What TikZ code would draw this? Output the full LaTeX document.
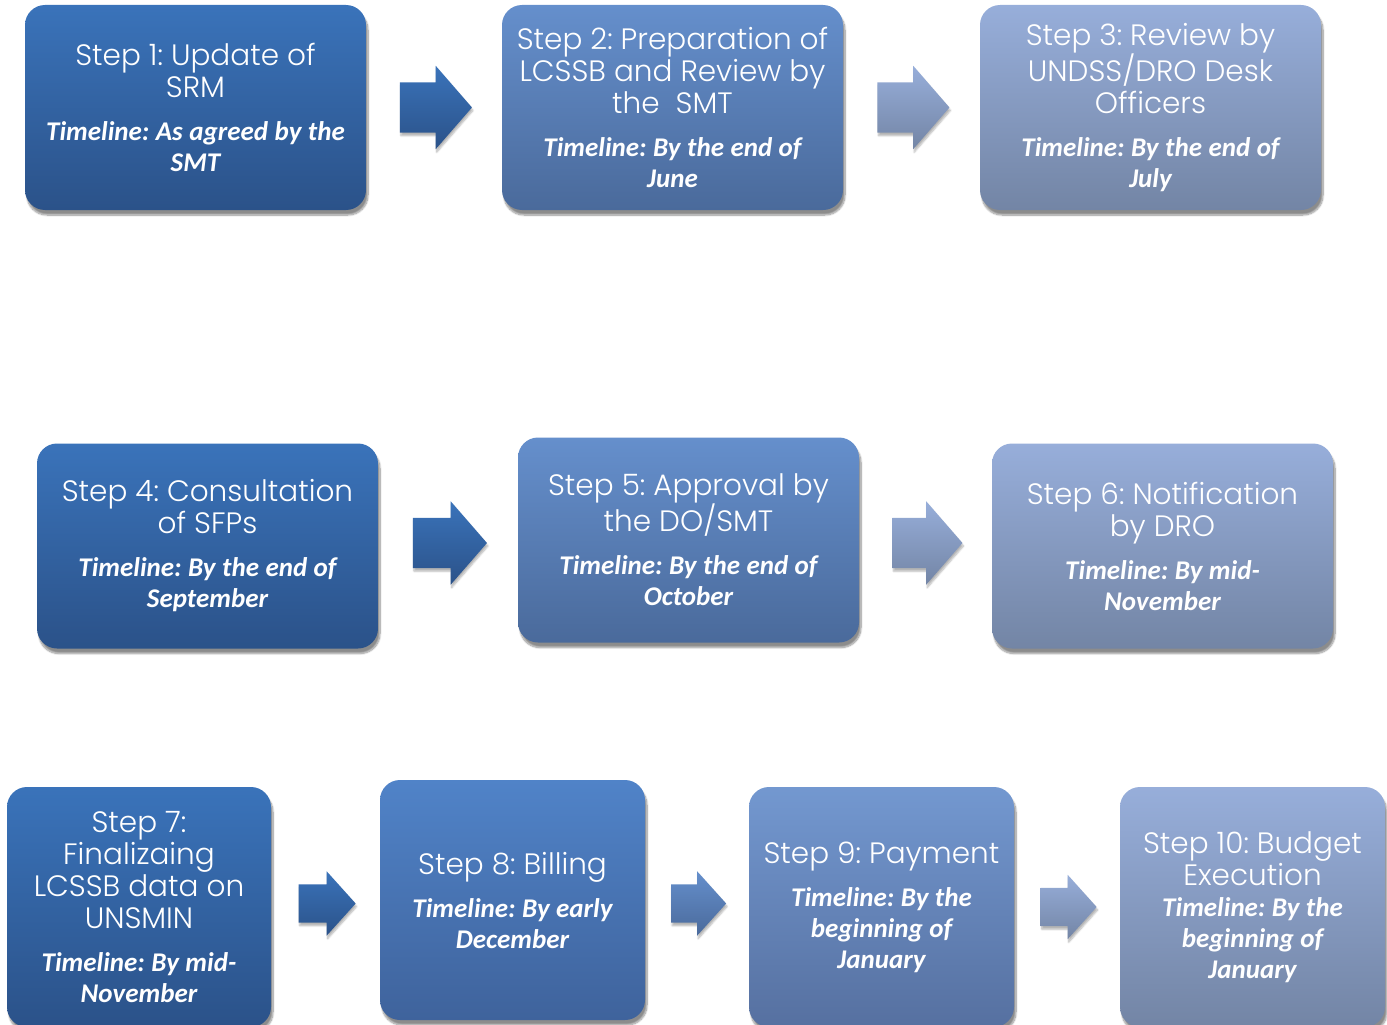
\documentclass[tikz,border=0pt]{standalone}
\usepackage{fontspec}
\usetikzlibrary{shapes.arrows,shadows.blur,calc}
\newfontfamily\titlefam{Poppins Light}
\newfontfamily\timefam{Carlito}
\newcommand\stfont{\titlefam\fontsize{29.5}{32}\selectfont\frenchspacing\spaceskip=8pt\xspaceskip=8pt\relax}
\newcommand\tlfont{\timefam\bfseries\itshape\fontsize{27}{31}\selectfont\frenchspacing\spaceskip=6.5pt\xspaceskip=6.5pt\relax}
\definecolor{dtop}{HTML}{3A73BA}
\definecolor{dbot}{HTML}{2B5289}
\definecolor{mtop}{HTML}{658FCC}
\definecolor{mbot}{HTML}{4A6A9B}
\definecolor{ntop}{HTML}{5083C8}
\definecolor{nbot}{HTML}{3F639C}
\definecolor{ptop}{HTML}{7398D0}
\definecolor{pbot}{HTML}{5670A0}
\definecolor{ltop}{HTML}{97AEDA}
\definecolor{lbot}{HTML}{7385A5}
\tikzset{
  box/.style={rectangle, rounded corners=20pt, draw=none, inner sep=0pt,
    align=center, text=white,
    blur shadow={shadow xshift=2pt, shadow yshift=-5pt, shadow opacity=45, shadow blur steps=10}},
  bigbox/.style={box, minimum width=341pt, minimum height=205pt, text width=332pt},
  tallbox/.style={box, minimum width=265pt, minimum height=240pt, text width=258pt},
  darkfill/.style={top color=dtop, bottom color=dbot},
  midfill/.style={top color=mtop, bottom color=mbot},
  nfill/.style={top color=ntop, bottom color=nbot},
  pfill/.style={top color=ptop, bottom color=pbot},
  lightfill/.style={top color=ltop, bottom color=lbot},
  blockarrow/.style={single arrow, draw=none, inner xsep=0pt,
    single arrow head indent=0pt,
    blur shadow={shadow xshift=1pt, shadow yshift=-3pt, shadow opacity=30, shadow blur steps=6}},
  arrowbig/.style={blockarrow, minimum height=72pt, inner ysep=25pt, minimum width=83pt,
    single arrow head extend=16.5pt, single arrow tip angle=98, xshift=-9pt},
  arrowsmall/.style={blockarrow, minimum height=57pt, inner ysep=19pt, minimum width=64pt,
    single arrow head extend=13pt, single arrow tip angle=96, xshift=-7pt},
}
\begin{document}
\begin{tikzpicture}[x=1pt,y=-1pt]
\useasboundingbox (0,0) rectangle (1387,1025);
% row 1
\node[bigbox, darkfill] (s1) at (195.5,107.5)
  {\stfont Step 1: Update of\\SRM\\[12pt]\tlfont Timeline: As agreed by the\\SMT\par};
\node[bigbox, midfill] (s2) at (672.5,107.5)
  {\stfont Step 2: Preparation of\\LCSSB and Review by\\the\hspace{16pt}SMT\\[12pt]\tlfont Timeline: By the end of\\June\par};
\node[bigbox, lightfill] (s3) at (1150.5,107.5)
  {\stfont Step 3: Review by\\UNDSS/DRO Desk\\Officers\\[12pt]\tlfont Timeline: By the end of\\July\par};
% row 2
\node[bigbox, darkfill] (s4) at (207.5,546)
  {\stfont Step 4: Consultation\\of SFPs\\[12pt]\tlfont Timeline: By the end of\\September\par};
\node[bigbox, midfill] (s5) at (688.5,540)
  {\stfont Step 5: Approval by\\the DO/SMT\\[12pt]\tlfont Timeline: By the end of\\October\par};
\node[bigbox, lightfill] (s6) at (1162.5,546)
  {\stfont Step 6: Notification\\by DRO\\[12pt]\tlfont Timeline: By mid-\\November\par};
% row 3
\node[tallbox, darkfill, minimum width=264pt] (s7) at (139,907)
  {\stfont Step 7:\\Finalizaing\\LCSSB data on\\UNSMIN\\[12pt]\tlfont Timeline: By mid-\\November\par};
\node[tallbox, nfill] (s8) at (512.5,900)
  {\stfont Step 8: Billing\\[12pt]\tlfont Timeline: By early\\December\par};
\node[tallbox, pfill] (s9) at (881.5,907)
  {\stfont Step 9: Payment\\[12pt]\tlfont Timeline: By the\\beginning of\\January\par};
\node[tallbox, lightfill] (s10) at (1252.5,907)
  {\stfont Step 10: Budget\\Execution\\\tlfont Timeline: By the\\beginning of\\January\par};
% arrows
\node[arrowbig, top color=dtop, bottom color=dbot] (a1) at ($(s1.east)!0.5!(s2.west)$) {};
\node[arrowbig, top color=ltop, bottom color=lbot] (a2) at ($(s2.east)!0.5!(s3.west)$) {};
\node[arrowbig, top color=dtop, bottom color=dbot, minimum height=74pt] (a3) at ($(s4.east)!0.5!(s5.west)$) {};
\node[arrowbig, top color=ltop, bottom color=lbot, minimum height=70pt] (a4) at ($(s5.east)!0.5!(s6.west)$) {};
\node[arrowsmall, top color=dtop, bottom color=dbot] (a5) at ($(s7.east)!0.5!(s8.west)$) {};
\node[arrowsmall, top color=mtop, bottom color=mbot, minimum height=55pt] (a6) at ($(s8.east)!0.5!(s9.west)$) {};
\node[arrowsmall, top color=ltop, bottom color=lbot, minimum height=56pt] (a7) at ($(s9.east)!0.5!(s10.west)$) {};
\end{tikzpicture}
\end{document}
